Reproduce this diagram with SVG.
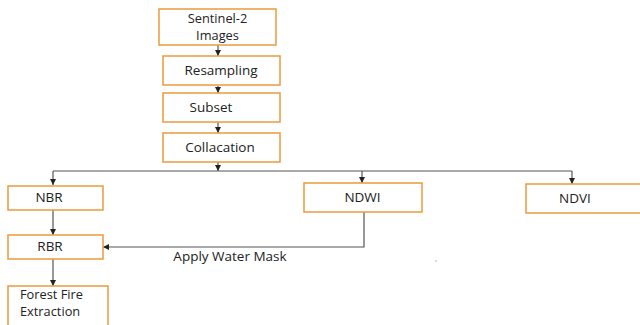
<svg xmlns="http://www.w3.org/2000/svg" width="640" height="325" viewBox="0 0 640 325">
<style>
.box{fill:#fff;stroke:#ED9A3C;stroke-width:1.5}
.t{font-family:"Open Sans","Liberation Sans",sans-serif;font-size:13.5px;fill:#222;text-anchor:middle}
.t2{font-size:12.8px}
.ln{fill:none;stroke:#555;stroke-width:1.2}
</style>
<defs>
<marker id="ah" viewBox="0 0 6 6" refX="6" refY="3" markerWidth="6" markerHeight="6" orient="auto" markerUnits="userSpaceOnUse">
<path d="M0,0 L6,3 L0,6 z" fill="#222"/>
</marker>
</defs>
<rect width="640" height="325" fill="#fff"/>
<g id="connectors">
<path class="ln" d="M218,45 V56" marker-end="url(#ah)"/>
<path class="ln" d="M218,86 V93" marker-end="url(#ah)"/>
<path class="ln" d="M218,122 V133" marker-end="url(#ah)"/>
<path class="ln" d="M218,162 V171" marker-end="url(#ah)"/>
<path class="ln" d="M53,171 H572"/>
<path class="ln" d="M53,171 V185" marker-end="url(#ah)"/>
<path class="ln" d="M362,171 V183" marker-end="url(#ah)"/>
<path class="ln" d="M572,171 V184" marker-end="url(#ah)"/>
<path class="ln" d="M53,210 V235" marker-end="url(#ah)"/>
<path class="ln" d="M364,212 V247 H103" marker-end="url(#ah)"/>
<path class="ln" d="M53,259 V286" marker-end="url(#ah)"/>
<text class="t" x="230" y="261">Apply Water Mask</text>
</g>
<g id="sentinel"><rect class="box" x="159" y="9" width="117" height="36"/><text class="t t2" x="217.5" y="23">Sentinel-2</text><text class="t t2" x="217.5" y="40">Images</text></g>
<g id="resampling"><rect class="box" x="163" y="56" width="117" height="29"/><text class="t" x="221" y="75">Resampling</text></g>
<g id="subset"><rect class="box" x="163" y="93" width="117" height="29"/><text class="t" x="211" y="112">Subset</text></g>
<g id="collacation"><rect class="box" x="163" y="133" width="117" height="29"/><text class="t" x="220" y="152">Collacation</text></g>
<g id="nbr"><rect class="box" x="8" y="186" width="95" height="24"/><text class="t" x="49" y="202">NBR</text></g>
<g id="rbr"><rect class="box" x="8" y="235" width="95" height="24"/><text class="t" x="50" y="251">RBR</text></g>
<g id="forest"><rect class="box" x="8" y="286" width="100" height="45"/><text class="t t2" x="20" y="299" style="text-anchor:start">Forest Fire</text><text class="t t2" x="20" y="316" style="text-anchor:start">Extraction</text></g>
<g id="ndwi"><rect class="box" x="304" y="183" width="118" height="29"/><text class="t" x="362.5" y="202">NDWI</text></g>
<g id="ndvi"><rect class="box" x="526" y="184" width="120" height="29"/><text class="t" x="575" y="203">NDVI</text></g>
<circle cx="436" cy="261" r="0.7" fill="#999"/>
</svg>
